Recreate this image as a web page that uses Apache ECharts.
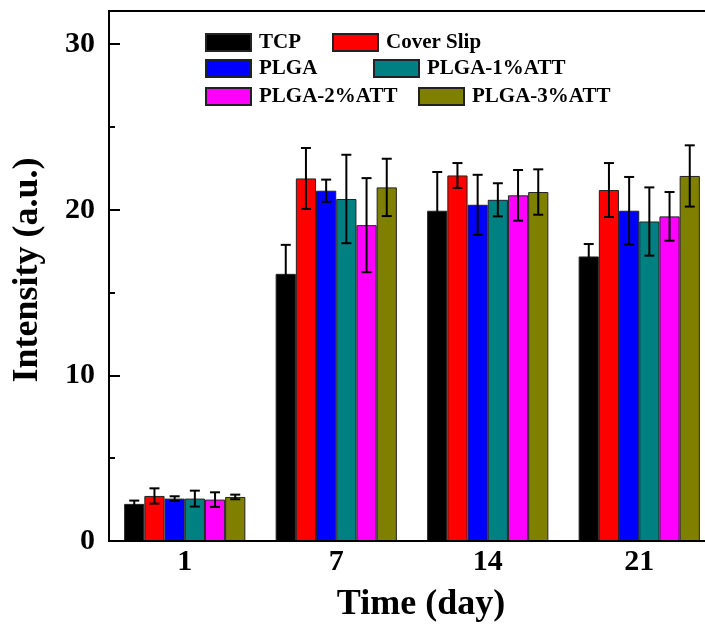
<!DOCTYPE html>
<html>
<head>
<meta charset="utf-8">
<script src="https://cdn.jsdelivr.net/npm/echarts@6/dist/echarts.min.js"></script>
<style>
  html, body { margin: 0; padding: 0; background: #fff; }
  #main { width: 705px; height: 630px; }
</style>
</head>
<body>
<div id="main"></div>
<script>
// data
var days = ["1", "7", "14", "21"];
var names = ["TCP", "Cover Slip", "PLGA", "PLGA-1%ATT", "PLGA-2%ATT", "PLGA-3%ATT"];
var colors = ["#000000", "#ff0000", "#0000ff", "#008080", "#ff00ff", "#808000"];

var tcp = [2.24, 16.13, 19.94, 17.18];
var tcpErr = [0.2, 1.75, 2.34, 0.75];
var cover = [2.72, 21.89, 22.07, 21.19];
var coverErr = [0.46, 1.84, 0.75, 1.63];
var plga = [2.56, 21.15, 20.3, 19.94];
var plgaErr = [0.14, 0.67, 1.81, 2.04];
var att1 = [2.56, 20.65, 20.6, 19.29];
var att1Err = [0.48, 2.67, 1.0, 2.06];
var att2 = [2.5, 19.07, 20.87, 19.6];
var att2Err = [0.44, 2.84, 1.53, 1.47];
var att3 = [2.66, 21.35, 21.07, 22.04];
var att3Err = [0.14, 1.73, 1.37, 1.85];

var yTicks = [0, 10, 20, 30];

var means = [tcp, cover, plga, att1, att2, att3];
var errs = [tcpErr, coverErr, plgaErr, att1Err, att2Err, att3Err];

var font = "'Liberation Serif', 'Times New Roman', serif";
var nBars = names.length;
var catGap = 0.2;

function errRender(i) {
  return function (params, api) {
    var idx = api.value(0);
    var band = api.size([1, 0])[0];
    var barW = band * (1 - catGap) / nBars;
    var c = api.coord([idx, 0]);
    var x = c[0] + (i - (nBars - 1) / 2) * barW;
    var yLo = api.coord([idx, api.value(1)])[1];
    var yHi = api.coord([idx, api.value(2)])[1];
    var cap = 5;
    var st = { stroke: "#000", lineWidth: 2 };
    return {
      type: "group",
      children: [
        { type: "line", shape: { x1: x, y1: yLo, x2: x, y2: yHi }, style: st },
        { type: "line", shape: { x1: x - cap, y1: yHi, x2: x + cap, y2: yHi }, style: st },
        { type: "line", shape: { x1: x - cap, y1: yLo, x2: x + cap, y2: yLo }, style: st }
      ]
    };
  };
}

var series = [];
names.forEach(function (n, i) {
  series.push({
    name: n,
    type: "bar",
    data: means[i],
    barGap: "0%",
    barCategoryGap: catGap * 100 + "%",
    itemStyle: { color: colors[i], borderColor: "#222", borderWidth: 1 },
    silent: true
  });
});
names.forEach(function (n, i) {
  series.push({
    name: "err " + n,
    type: "custom",
    renderItem: errRender(i),
    data: means[i].map(function (m, k) { return [k, m - errs[i][k], m + errs[i][k]]; }),
    z: 10,
    silent: true
  });
});

// legend placement (one legend per entry)
var legendPos = [
  [205, 32], [332, 32],
  [205, 58], [373, 58],
  [205, 86], [418, 86]
];
var legends = names.map(function (n, i) {
  return {
    data: [n],
    left: legendPos[i][0],
    top: legendPos[i][1],
    padding: 0,
    icon: "rect",
    itemWidth: 45,
    itemHeight: 17,
    selectedMode: false,
    textStyle: { fontFamily: font, fontWeight: "bold", fontSize: 21, color: "#000", padding: [0, 0, 0, 3] }
  };
});

var myChart = echarts.init(document.getElementById("main"));
var option = {
  animation: false,
  backgroundColor: "#fff",
  legend: legends,
  grid: {
    left: 109, top: 11, width: 606, height: 530,
    outerBoundsMode: "none",
    containLabel: false,
    show: true, borderColor: "#000", borderWidth: 2, backgroundColor: "transparent"
  },
  xAxis: [
    {
      type: "category",
      data: days,
      z: 12,
      axisLine: { lineStyle: { color: "#000", width: 2 } },
      axisTick: { alignWithLabel: true, inside: true, length: 10, lineStyle: { color: "#000", width: 2 } },
      axisLabel: { fontFamily: font, fontWeight: "bold", fontSize: 30, color: "#000", margin: 6 },
      splitLine: { show: false }
    },
    {
      type: "category",
      data: days,
      position: "bottom",
      z: 12,
      axisLine: { show: false },
      axisTick: { inside: true, length: 4, lineStyle: { color: "#000", width: 2 } },
      axisLabel: { show: false },
      splitLine: { show: false }
    }
  ],
  yAxis: [
    {
      type: "value",
      min: 0, max: 32, interval: 10,
      axisLine: { show: true, lineStyle: { color: "#000", width: 2 } },
      axisTick: { show: true, inside: true, length: 11, lineStyle: { color: "#000", width: 2 } },
      axisLabel: {
        fontFamily: font, fontWeight: "bold", fontSize: 30, color: "#000", margin: 14,
        formatter: function (v) { return yTicks.indexOf(v) >= 0 ? String(v) : ""; }
      },
      splitLine: { show: false }
    },
    {
      type: "value",
      position: "left",
      min: 0, max: 32, interval: 5,
      axisLine: { show: false },
      axisTick: { show: true, inside: true, length: 6, lineStyle: { color: "#000", width: 2 } },
      axisLabel: { show: false },
      splitLine: { show: false }
    }
  ],
  graphic: [
    {
      type: "text", x: 421, y: 605,
      style: { text: "Time (day)", font: "bold 36px " + font, fill: "#000", align: "center", verticalAlign: "middle" }
    },
    {
      type: "text", x: 28, y: 270, rotation: Math.PI / 2,
      style: { text: "Intensity (a.u.)", font: "bold 36px " + font, fill: "#000", align: "center", verticalAlign: "middle" }
    }
  ],
  series: series
};
myChart.setOption(option);
</script>
</body>
</html>
